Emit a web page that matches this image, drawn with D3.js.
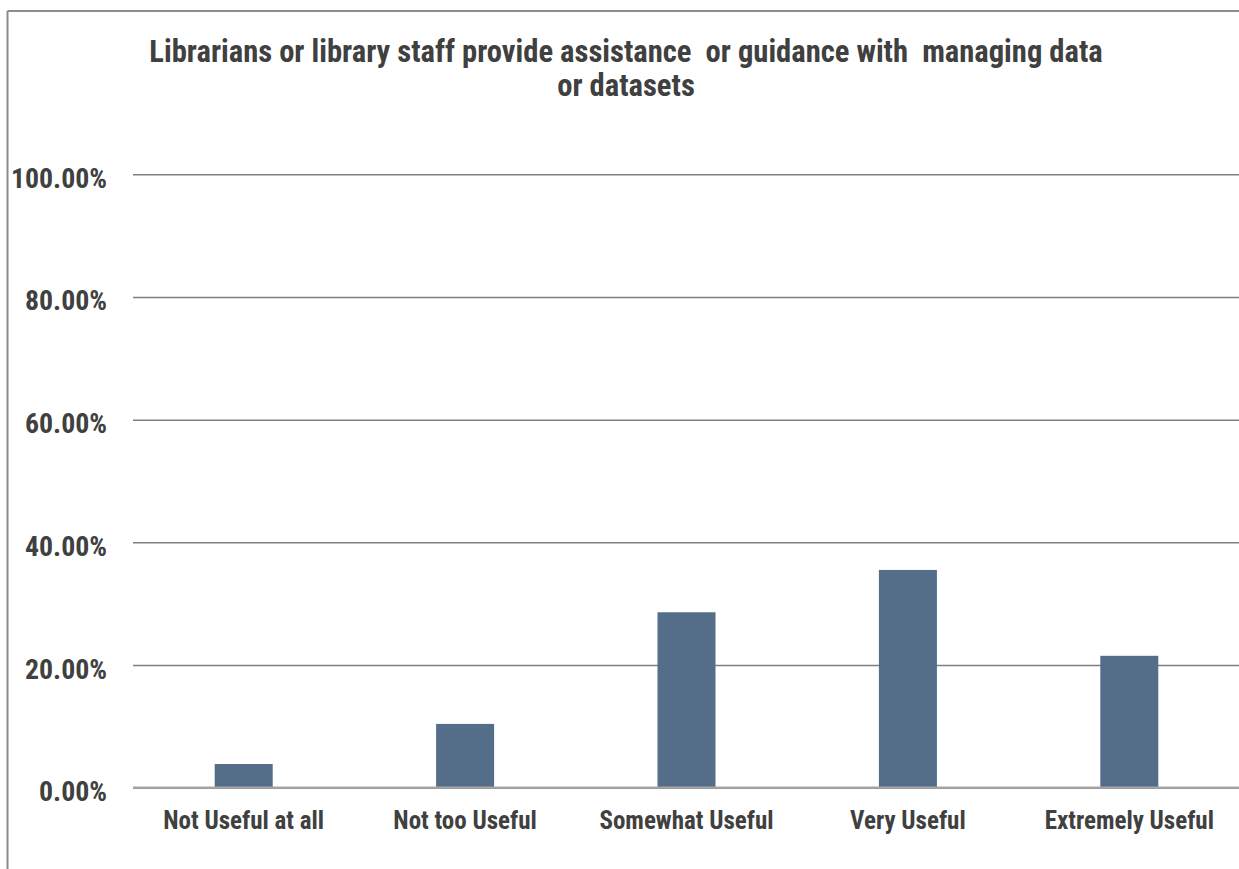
<!DOCTYPE html>
<html>
<head>
<meta charset="utf-8">
<script src="https://cdn.jsdelivr.net/npm/d3@7"></script>
<style>
  html, body { margin: 0; padding: 0; background: #ffffff; }
  svg { display: block; }
  .lbl { font-family: "Liberation Sans Narrow", "Arial Narrow", "Roboto Condensed", "Liberation Sans", sans-serif; font-weight: bold; fill: #404040; }
  .title { white-space: pre; }
</style>
</head>
<body>
<svg id="chart" width="1239" height="869"></svg>
<script>
const titleLines = ["Librarians or library staff provide assistance  or guidance with  managing data", "or datasets"];
const categories = ["Not Useful at all", "Not too Useful", "Somewhat Useful", "Very Useful", "Extremely Useful"];
const values = [3.86, 10.4, 28.6, 35.5, 21.5];
const yTicks = [0, 20, 40, 60, 80, 100];

const W = 1239, H = 869;
const plot = { left: 133, right: 1240, top: 174.3, bottom: 787.7 };

const svg = d3.select("#chart");

// chart frame (left and top edges visible)
svg.append("line").attr("x1", 7.5).attr("x2", 7.5).attr("y1", 11).attr("y2", H + 5)
  .attr("stroke", "#8c8c8c").attr("stroke-width", 2);
svg.append("line").attr("x1", 7.5).attr("x2", W + 5).attr("y1", 11).attr("y2", 11)
  .attr("stroke", "#8c8c8c").attr("stroke-width", 2);

const x = d3.scaleBand().domain(categories).range([plot.left, plot.right])
  .paddingInner(0.738).paddingOuter(0.369);
const y = d3.scaleLinear().domain([0, 100]).range([plot.bottom, plot.top]);

// y axis with gridlines
const yAxis = svg.append("g").attr("transform", `translate(${plot.left},0)`)
  .call(d3.axisLeft(y).tickValues(yTicks).tickSize(-(W - plot.left)).tickPadding(26)
    .tickFormat(d => d.toFixed(2) + "%"));
yAxis.select(".domain").remove();
yAxis.attr("font-family", null).attr("font-size", null);
yAxis.selectAll(".tick line").attr("stroke", "#7f7f7f").attr("stroke-width", 1.5);
yAxis.selectAll(".tick text").attr("class", "lbl").attr("font-size", 27.8).attr("dy", 13);

// bars
svg.append("g").selectAll("rect").data(categories).join("rect")
  .attr("x", d => x(d))
  .attr("width", x.bandwidth())
  .attr("y", (d, i) => y(values[i]))
  .attr("height", (d, i) => y(0) - y(values[i]))
  .attr("fill", "#546d89");

// x axis
const xAxis = svg.append("g").attr("transform", `translate(0,${plot.bottom})`)
  .call(d3.axisBottom(x).tickSize(0).tickPadding(0));
xAxis.attr("font-family", null).attr("font-size", null);
xAxis.select(".domain").attr("d", `M${plot.left},0H${W}`).attr("stroke", "#a6a6a6").attr("stroke-width", 2.2);
xAxis.selectAll(".tick text").attr("class", "lbl").attr("font-size", 25).attr("y", 41.5).attr("dy", 0);

// title
svg.append("g").selectAll("text").data(titleLines).join("text")
  .attr("class", "lbl title")
  .attr("x", 626)
  .attr("y", (d, i) => 62 + i * 34)
  .attr("text-anchor", "middle")
  .attr("font-size", 30.6)
  .text(d => d);
</script>
</body>
</html>
